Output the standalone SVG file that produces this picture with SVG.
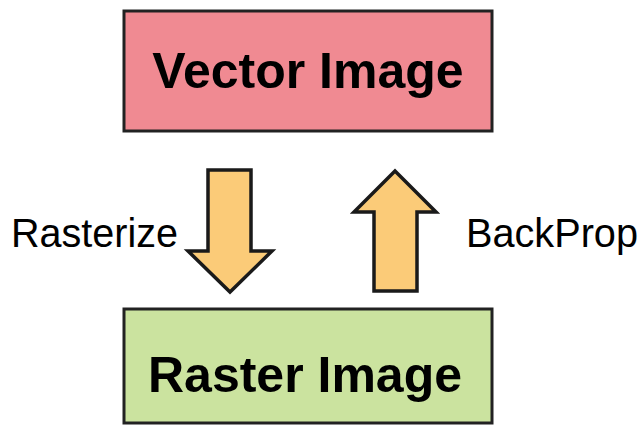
<svg xmlns="http://www.w3.org/2000/svg" width="642" height="428" viewBox="0 0 642 428">
<style>
.box{stroke:#222;stroke-width:3}
.arrow{fill:#FBCB78;stroke:#1a1a1a;stroke-width:3.5;stroke-linejoin:miter}
.title{font-family:"Liberation Sans",Arial,sans-serif;font-weight:bold;font-size:50px;fill:#000;text-anchor:middle}
.lbl{font-family:"Liberation Sans",Arial,sans-serif;font-size:40px;fill:#000}
</style>
<rect width="642" height="428" fill="#fff"/>
<g id="vector">
<rect class="box" x="124" y="11" width="368" height="120" fill="#F08A92"/>
<text class="title" x="308" y="88">Vector Image</text>
</g>
<g id="raster">
<rect class="box" x="124" y="309" width="368" height="114" fill="#CBE39F"/>
<text class="title" x="305" y="392">Raster Image</text>
</g>
<g id="connectors">
<polygon class="arrow" points="208,170 251,170 251,251 272,251 230,292 188,251 208,251"/>
<polygon class="arrow" points="374,291 417,291 417,212 436,212 395,171 354,212 374,212"/>
</g>
<g id="labels">
<text class="lbl" x="11" y="247" textLength="167" lengthAdjust="spacingAndGlyphs">Rasterize</text>
<text class="lbl" x="466" y="247" textLength="172" lengthAdjust="spacingAndGlyphs">BackProp</text>
</g>
</svg>
